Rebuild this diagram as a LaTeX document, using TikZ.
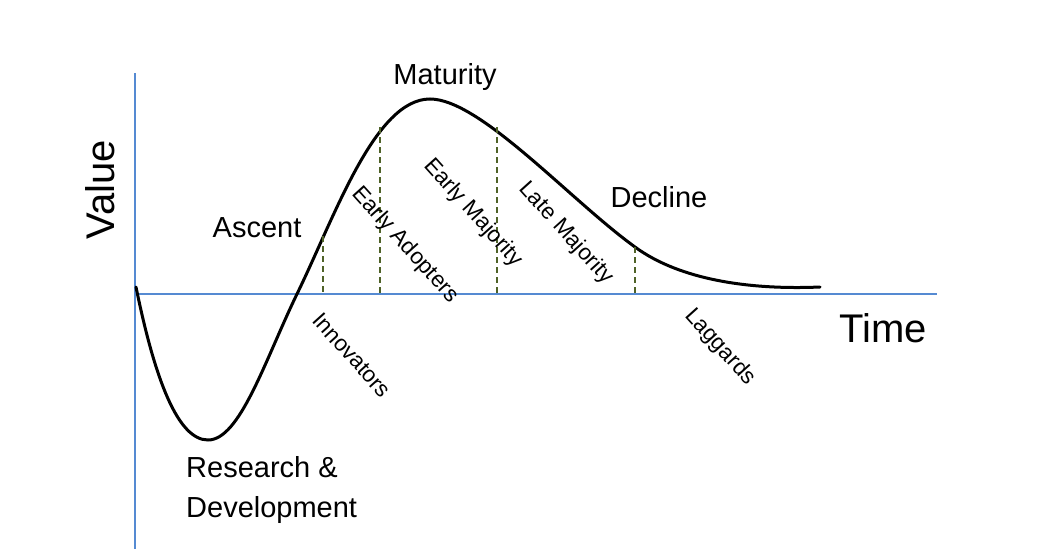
\documentclass[tikz,border=0pt]{standalone}
\usepackage{fontspec}
\setmainfont{Liberation Sans}
\definecolor{axisblue}{RGB}{85,138,210}
\definecolor{olivedash}{RGB}{79,98,40}
\begin{document}
\begin{tikzpicture}[x=1pt,y=-1pt,
  axisline/.style={draw=axisblue,line width=2.2pt},
  curveline/.style={draw=black,line width=3pt,line cap=round},
  dropline/.style={draw=olivedash,line width=1.6pt,dash pattern=on 6pt off 4pt},
  biglabel/.style={font=\fontsize{29}{40}\selectfont,inner sep=0pt},
  axislabel/.style={font=\fontsize{40}{46}\selectfont,inner sep=0pt},
  phaselabel/.style={font=\fontsize{22.5}{26}\selectfont,inner sep=0pt,rotate=-48}]
\useasboundingbox (0,0) rectangle (1064,549);
% axes
\coordinate (ytop) at (135,73);
\coordinate (ybot) at (135,549);
\coordinate (xl) at (135,294);
\coordinate (xr) at (937,294);
\draw[axisline] (ytop) -- (ybot);
\draw[axisline] (xl) -- (xr);
% curve
\coordinate (p0) at (136,287);
\coordinate (pmin) at (208,440);
\coordinate (pcross) at (297,294);
\coordinate (ppeak) at (430,99);
\coordinate (pdec) at (635,247);
\coordinate (pend) at (820,287);
\draw[curveline] (p0) .. controls (155,380) and (178,440) .. (pmin)
  .. controls (240,440) and (265,360) .. (pcross)
  .. controls (335,216) and (375,99) .. (ppeak)
  .. controls (480,99) and (570,200) .. (pdec)
  .. controls (680,280) and (750,290) .. (pend);
% drop lines
\coordinate (c1) at (323,236); \coordinate (a1) at (323,294);
\coordinate (c2) at (380,127); \coordinate (a2) at (380,294);
\coordinate (c3) at (497,127); \coordinate (a3) at (497,294);
\coordinate (c4) at (635,247); \coordinate (a4) at (635,294);
\draw[dropline] (c1) -- (a1);
\draw[dropline] (c2) -- (a2);
\draw[dropline] (c3) -- (a3);
\draw[dropline] (c4) -- (a4);
% labels
\node[biglabel] (maturity) at (445,77) {Maturity};
\node[biglabel] (ascent) at (257,228) {Ascent};
\node[biglabel] (decline) at (659,197) {Decline};
\node[biglabel,anchor=west,align=left] (rd) at (186,490) {Research \&\\Development};
\node[axislabel,rotate=90] (value) at (100,190) {Value};
\node[axislabel] (time) at (883,328) {Time};
\node[phaselabel] (innov) at (352,355) {Innovators};
\node[phaselabel] (eadopt) at (405,245) {Early Adopters};
\node[phaselabel] (emaj) at (473,213) {Early Majority};
\node[phaselabel] (lmaj) at (566,233) {Late Majority};
\node[phaselabel] (lagg) at (720,347) {Laggards};
\end{tikzpicture}
\end{document}
